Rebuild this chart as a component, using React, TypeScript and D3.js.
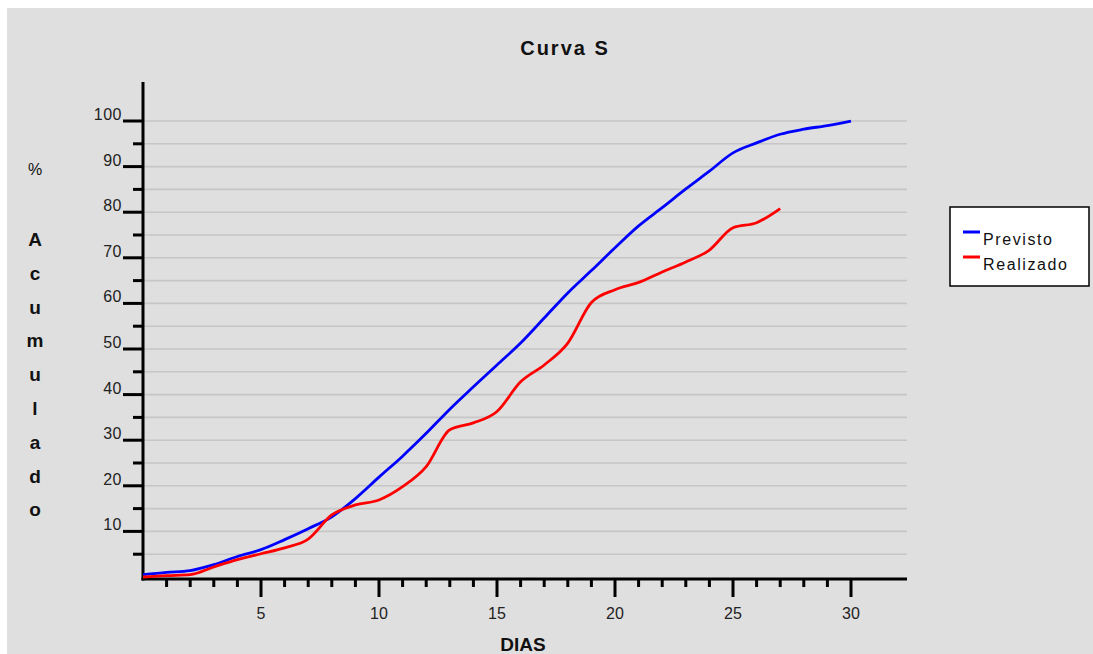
import * as d3 from "d3";

// dias 0..30
const dias = d3.range(0, 31);
const previsto = [0.5, 1, 1.4, 2.7, 4.5, 6.0, 8.2, 10.6, 13.2, 17.2, 21.9, 26.5, 31.5, 36.8, 41.7, 46.5, 51.3, 56.8, 62.3, 67.2, 72.2, 77.0, 81.0, 85.1, 89.0, 93.0, 95.2, 97.1, 98.2, 99.0, 100];
const realizado = [0, 0.3, 0.5, 2.2, 3.8, 5.1, 6.4, 8.3, 13.6, 15.8, 16.9, 19.8, 24.2, 32.3, 33.8, 36.3, 42.8, 46.5, 51.3, 60.2, 63.0, 64.6, 66.9, 69.1, 71.7, 76.6, 77.7, 80.8];
const yMajor = [10, 20, 30, 40, 50, 60, 70, 80, 90, 100];
const yMinor = [5, 15, 25, 35, 45, 55, 65, 75, 85, 95];
const xMajor = [5, 10, 15, 20, 25, 30];
const xMinor = d3.range(1, 31).filter((d) => d % 5 !== 0);
const yLetters = ["A", "c", "u", "m", "u", "l", "a", "d", "o"];
const series = [
  { name: "Previsto", values: previsto, color: "#0000ff" },
  { name: "Realizado", values: realizado, color: "#ff0000" },
];

const App = () => {
  const w = 1093;
  const h = 654;
  const x = d3.scaleLinear().domain([0, 30]).range([143, 851]);
  const y = d3.scaleLinear().domain([0, 100]).range([577, 121]);
  const axisY = 579;
  const xEnd = 907;
  const yTop = 82;

  const line = d3
    .line<number>()
    .x((d, i) => x(dias[i]))
    .y((d) => y(d))
    .curve(d3.curveMonotoneX);

  const font = "'Liberation Sans', Arial, sans-serif";

  return (
    <svg width={w} height={h} style={{ position: "absolute", left: 0, top: 0, background: "#fff" }}>
      <rect x={7} y={8} width={w - 7} height={h - 8} fill="#dfdfdf" />
      {/* title */}
      <text x={565} y={55} textAnchor="middle" fontFamily={font} fontWeight="bold" fontSize={20} letterSpacing={2} fill="#111">
        Curva S
      </text>
      {/* y label */}
      <text x={35} y={175} textAnchor="middle" fontFamily={font} fontSize={16} fill="#111">%</text>
      {yLetters.map((l, i) => (
        <text key={i} x={35} y={246 + i * 33.8} textAnchor="middle" fontFamily={font} fontWeight="bold" fontSize={19} fill="#111">
          {l}
        </text>
      ))}
      {/* gridlines */}
      {[...yMinor, ...yMajor].map((v) => (
        <line key={"g" + v} x1={143} x2={xEnd} y1={y(v)} y2={y(v)} stroke="#c6c6c6" strokeWidth={1.6} />
      ))}
      {/* y ticks */}
      {yMajor.map((v) => (
        <g key={"ym" + v}>
          <line x1={123} x2={143} y1={y(v)} y2={y(v)} stroke="#000" strokeWidth={3} />
          <text x={122} y={y(v) - 1} textAnchor="end" fontFamily={font} fontSize={16} letterSpacing={0.5} fill="#222">
            {v}
          </text>
        </g>
      ))}
      {yMinor.map((v) => (
        <line key={"yn" + v} x1={133} x2={143} y1={y(v)} y2={y(v)} stroke="#000" strokeWidth={3} />
      ))}
      {/* x ticks */}
      {xMajor.map((v) => (
        <g key={"xm" + v}>
          <line x1={x(v)} x2={x(v)} y1={axisY} y2={597} stroke="#000" strokeWidth={3} />
          <text x={x(v)} y={619} textAnchor="middle" fontFamily={font} fontSize={16} fill="#222">
            {v}
          </text>
        </g>
      ))}
      {xMinor.map((v) => (
        <line key={"xn" + v} x1={x(v)} x2={x(v)} y1={axisY} y2={587} stroke="#000" strokeWidth={3} />
      ))}
      {/* axes */}
      <line x1={143} x2={143} y1={yTop} y2={axisY + 1.5} stroke="#000" strokeWidth={3} />
      <line x1={141.5} x2={xEnd} y1={axisY} y2={axisY} stroke="#000" strokeWidth={3} />
      <text x={523} y={651} textAnchor="middle" fontFamily={font} fontWeight="bold" fontSize={19} fill="#111">
        DIAS
      </text>
      {/* series */}
      {series.map((s) => (
        <path key={s.name} d={line(s.values) || ""} fill="none" stroke={s.color} strokeWidth={2.8} strokeLinejoin="round" />
      ))}
      {/* legend */}
      <rect x={950} y={207} width={139} height={79} fill="#fff" stroke="#000" strokeWidth={1.5} />
      {series.map((s, i) => (
        <g key={"l" + s.name}>
          <line x1={963} x2={980} y1={232 + i * 25} y2={232 + i * 25} stroke={s.color} strokeWidth={3} />
          <text x={983} y={245 + i * 25} fontFamily={font} fontSize={16} letterSpacing={1.6} fill="#111">
            {s.name}
          </text>
        </g>
      ))}
    </svg>
  );
};

export default App;
